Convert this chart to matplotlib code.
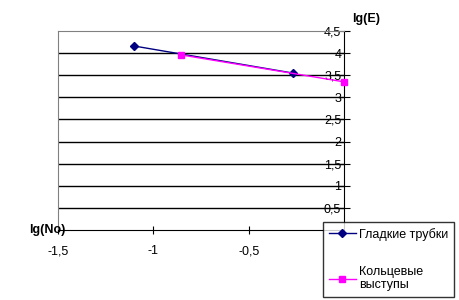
import matplotlib
matplotlib.use("Agg")
import matplotlib.pyplot as plt
from matplotlib.ticker import FuncFormatter

plt.rcParams['font.family'] = ['Liberation Sans', 'DejaVu Sans']

# data
smooth_x = [-1.10, -0.27]
smooth_y = [4.16, 3.55]
ring_x = [-0.855, 0.0]
ring_y = [3.96, 3.35]
xticks = [-1.5, -1.0, -0.5]
yticks = [0.5, 1, 1.5, 2, 2.5, 3, 3.5, 4, 4.5]

fig = plt.figure(figsize=(4.6, 3.0), dpi=100)
ax = fig.add_axes([58 / 460, 1 - 230 / 300, (344 - 58) / 460, (230 - 31) / 300])

ax.set_xlim(-1.5, 0)
ax.set_ylim(0, 4.5)

comma = FuncFormatter(lambda v, p: ('%g' % v).replace('.', ','))

# horizontal gridlines
for y in yticks[:-1]:
    ax.axhline(y, color='black', lw=1, zorder=1)

ax.plot(smooth_x, smooth_y, color='#000080', marker='D', markersize=4,
        lw=1, label='Гладкие трубки', zorder=3)
ax.plot(ring_x, ring_y, color='#ff00ff', marker='s', markersize=5,
        lw=1, label='Кольцевые\nвыступы', zorder=3, clip_on=False)

# spines: y axis on the right at x=0, x axis at y=0
ax.spines['left'].set_color('#808080')
ax.spines['top'].set_color('#808080')
ax.spines['right'].set_color('black')
ax.spines['bottom'].set_color('black')

ax.set_xticks(xticks)
ax.xaxis.set_major_formatter(comma)
ax.tick_params(axis='x', direction='inout', length=6, labelsize=9, pad=8)

ax.set_yticks(yticks)
ax.yaxis.set_major_formatter(comma)
ax.yaxis.tick_right()
ax.tick_params(axis='y', direction='inout', length=8, labelsize=9, pad=-6)
for lbl in ax.get_yticklabels():
    lbl.set_horizontalalignment('right')

fig.text(366 / 460, 1 - 19 / 300, 'lg(E)', fontsize=9, fontweight='bold',
         ha='center', va='center')
fig.text(47 / 460, 1 - 230 / 300, 'lg(No)', fontsize=9, fontweight='bold',
         ha='center', va='center')

leg = ax.legend(loc='upper left', bbox_to_anchor=(323 / 460, 1 - 222 / 300),
                bbox_transform=fig.transFigure, frameon=True, fancybox=False,
                edgecolor='black', fontsize=9, labelspacing=2.0,
                handlelength=2.2, handletextpad=0.2, borderpad=0.45,
                borderaxespad=0)
leg.get_frame().set_linewidth(1)

fig.savefig('out.png', dpi=100)
